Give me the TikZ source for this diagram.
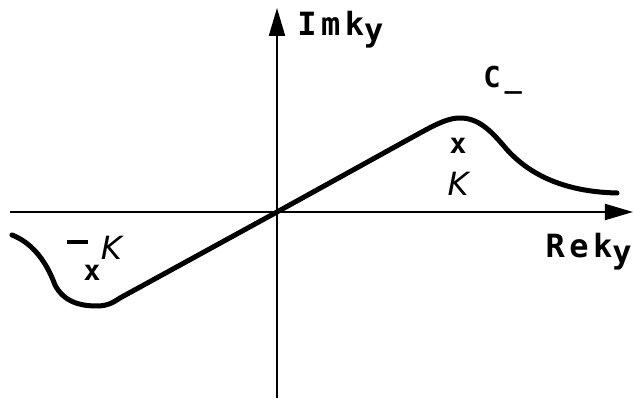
\documentclass[tikz,border=0pt]{standalone}
\usepackage{fontspec}
\usepackage{tikz}
\usetikzlibrary{arrows.meta}
\newfontfamily\letfont[LetterSpace=14]{DejaVu Sans Mono}
\newfontfamily\kfont{DejaVu Sans}
\newcommand{\lowy}{\raisebox{-0.3ex}{y}}
\newcommand{\dashmin}{\raisebox{0.5em}{\rule{0.65em}{0.12em}}\hspace{0.4em}}

\begin{document}
\begin{tikzpicture}[x=0.5pt, y=-0.5pt,
    axis/.style={line width=1pt, -{Triangle[length=14pt, width=8pt]}},
    curve/.style={line width=2.5pt, line cap=round},
    lbl/.style={inner sep=0pt, font=\letfont\bfseries\fontsize{16}{16}\selectfont},
    crossmark/.style={inner sep=0pt, font=\letfont\bfseries\fontsize{14}{14}\selectfont},
    pole/.style={inner sep=0pt, font=\kfont\itshape\fontsize{16}{16}\selectfont}
]
\useasboundingbox (0,0) rectangle (634,400);
\coordinate (o) at (277,212);
\coordinate (xl) at (10,212);
\coordinate (xr) at (633,212);
\coordinate (yb) at (277,398);
\coordinate (yt) at (277,8);
% axes
\draw[axis] (xl) -- (xr);
\draw[axis] (yb) -- (yt);
\node[lbl, anchor=base west] (im) at (297,36) {Imk\lowy};
\node[lbl, anchor=base east] (re) at (632,258) {Rek\lowy};
\node[lbl, anchor=base west, scale=0.9] (cm) at (483,88) {C\_};
% contour
\draw[curve] (12,235) .. controls (30,242) and (45,258) .. (55,285)
   .. controls (64,302) and (80,306) .. (97,306)
   .. controls (108,306) and (114,302) .. (120,298) -- (o) -- (420,133)
   .. controls (440,122) and (450,118) .. (460,118)
   .. controls (478,118) and (490,130) .. (503,145)
   .. controls (530,178) and (570,192) .. (617,193);
% poles
\node[crossmark] (xp) at (458,146) {x};
\node[pole] (kp) at (458,184) {K};
\node[crossmark] (xn) at (92,273) {x};
\node[pole, anchor=base west] (kn) at (67,260) {\dashmin K};
\end{tikzpicture}
\end{document}
